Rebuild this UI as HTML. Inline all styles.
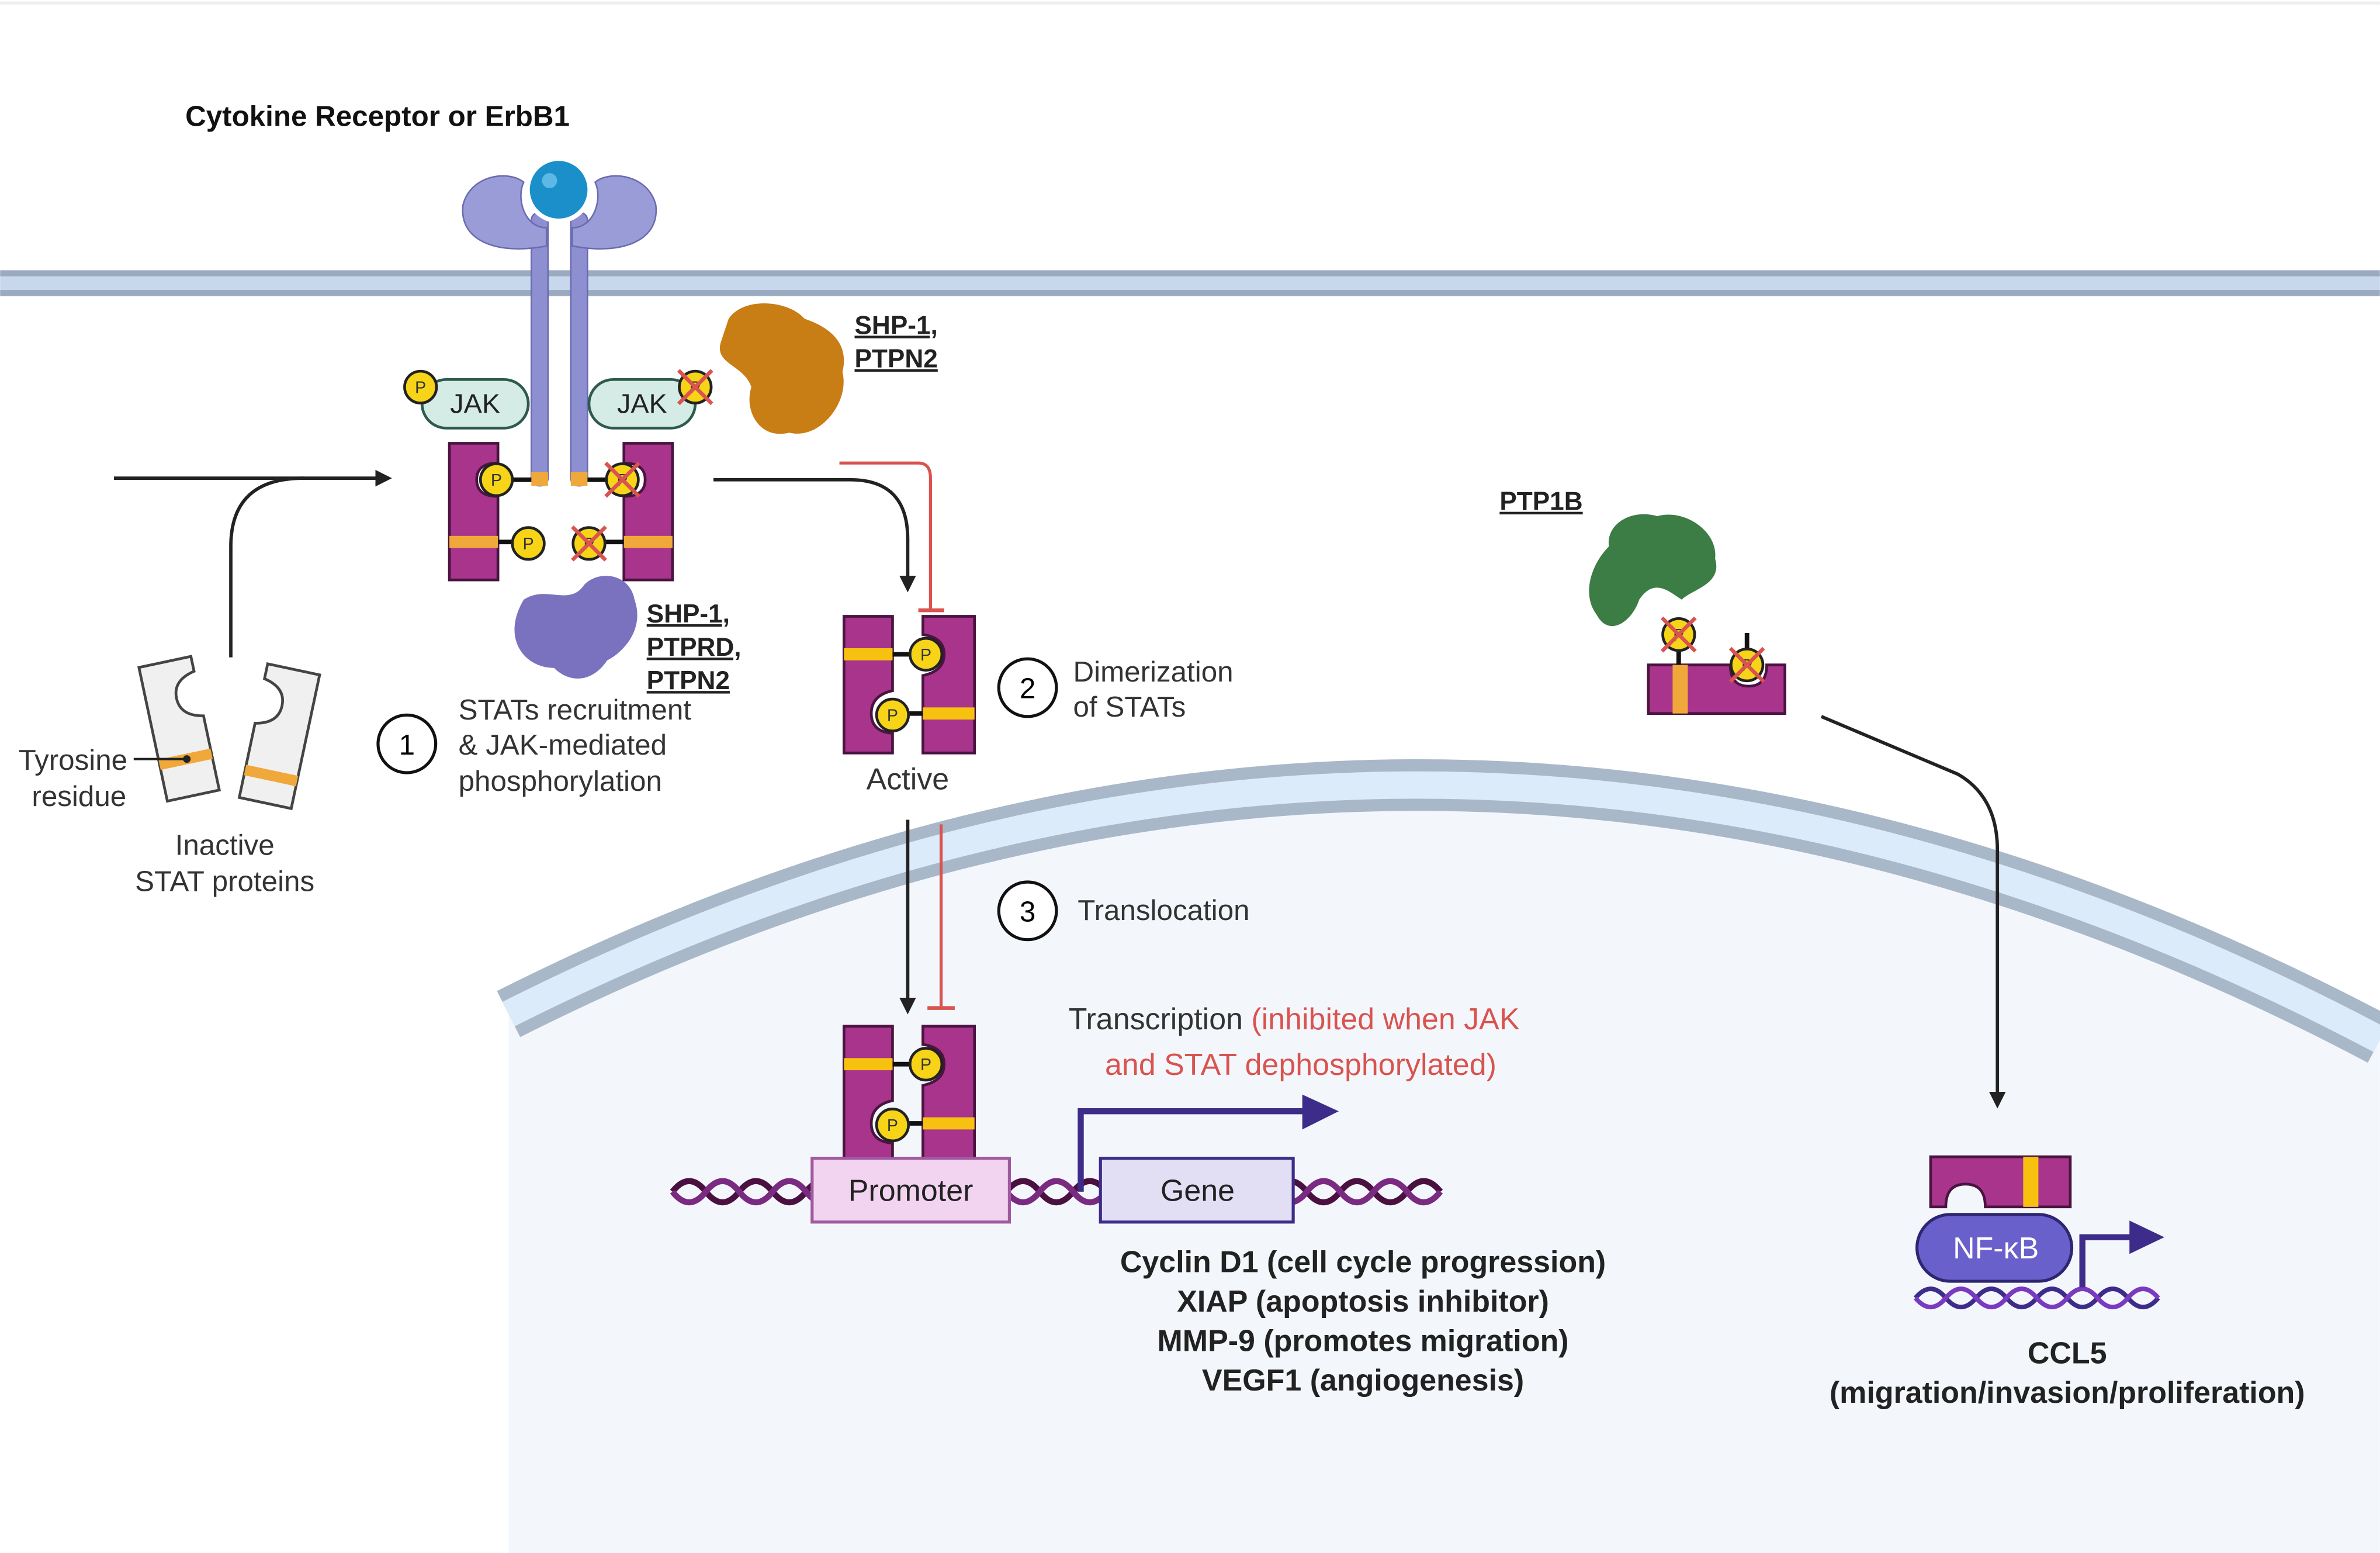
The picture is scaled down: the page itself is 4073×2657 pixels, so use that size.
<!DOCTYPE html>
<html><head><meta charset="utf-8"><style>
html,body{margin:0;padding:0;background:#fff}
svg{display:block}
text{font-family:"Liberation Sans",sans-serif}
</style></head><body>
<svg width="4073" height="2657" viewBox="0 0 1568 1023" xmlns="http://www.w3.org/2000/svg">
<defs>
<marker id="ah" viewBox="0 0 10 10" refX="8" refY="5" markerWidth="5" markerHeight="5" orient="auto"><path d="M0,0L10,5L0,10z" fill="#222"/></marker>
<g id="p"><circle r="10.5" fill="#f7d417" stroke="#222" stroke-width="1.8"/><text y="4" text-anchor="middle" font-size="11" fill="#333">P</text></g>
<g id="x"><path d="M-11,-11L11,11M11,-11L-11,11" stroke="#d9534f" stroke-width="2.5"/></g>
</defs>
<rect width="1568" height="1023" fill="#fff"/>
<line x1="0" y1="2" x2="1568" y2="2" stroke="#eee" stroke-width="2"/>
<rect x="0" y="180" width="1568" height="13" fill="#c9d7ec"/>
<line x1="0" y1="180" x2="1568" y2="180" stroke="#9aaac0" stroke-width="4"/>
<line x1="0" y1="193" x2="1568" y2="193" stroke="#9aaac0" stroke-width="4"/>
<path d="M335,1023 L335,668 Q950,358 1568,685 L1568,1023 Z" fill="#f3f7fc"/>
<path d="M335,668 Q950,358 1568,685" fill="none" stroke="#a9b8c8" stroke-width="34"/>
<path d="M335,668 Q950,358 1568,685" fill="none" stroke="#dcebfa" stroke-width="18"/>
<rect x="350" y="140" width="11" height="180" rx="5" fill="#8d8fd0" stroke="#6a6cb0" stroke-width="1"/>
<rect x="376" y="140" width="11" height="180" rx="5" fill="#8d8fd0" stroke="#6a6cb0" stroke-width="1"/>
<path d="M360,150 C345,150 340,130 345,120 C335,112 310,115 305,135 C302,160 330,168 360,162 Z" fill="#9a9cd8" stroke="#6a6cb0"/>
<path d="M377,150 C392,150 397,130 392,120 C402,112 427,115 432,135 C435,160 407,168 377,162 Z" fill="#9a9cd8" stroke="#6a6cb0"/>
<circle cx="368" cy="125" r="22" fill="#fff"/>
<circle cx="368" cy="125" r="19" fill="#1a8fc9"/>
<circle cx="362" cy="119" r="5" fill="#5cb8e4"/>
<rect x="350" y="311" width="11" height="9" fill="#f0a83a"/><rect x="376" y="311" width="11" height="9" fill="#f0a83a"/>
<rect x="278" y="250" width="70" height="32" rx="16" fill="#d5ece6" stroke="#2f5a4e" stroke-width="1.8"/>
<text x="313" y="272" text-anchor="middle" font-size="18" fill="#222">JAK</text>
<use href="#p" x="277" y="255"/>
<rect x="388" y="250" width="70" height="32" rx="16" fill="#d5ece6" stroke="#2f5a4e" stroke-width="1.8"/>
<text x="423" y="272" text-anchor="middle" font-size="18" fill="#222">JAK</text>
<use href="#p" x="458" y="255"/><use href="#x" x="458" y="255"/>
<path d="M296,292 H328 V305 Q314,305 314,316 Q314,327 328,327 V382 H296 Z" fill="#a8348c" stroke="#4a1440" stroke-width="1.8"/>
<rect x="296" y="353" width="32" height="8" fill="#f0a83a"/>
<path d="M443,292 H411 V305 Q425,305 425,316 Q425,327 411,327 V382 H443 Z" fill="#a8348c" stroke="#4a1440" stroke-width="1.8"/>
<rect x="411" y="353" width="32" height="8" fill="#f0a83a"/>
<line x1="336" y1="316" x2="350" y2="316" stroke="#111" stroke-width="3"/><use href="#p" x="327" y="316"/>
<line x1="387" y1="316" x2="402" y2="316" stroke="#111" stroke-width="3"/><use href="#p" x="410" y="316"/><use href="#x" x="410" y="316"/>
<line x1="328" y1="357" x2="340" y2="357" stroke="#111" stroke-width="3"/><use href="#p" x="348" y="358"/>
<line x1="398" y1="357" x2="411" y2="357" stroke="#111" stroke-width="3"/><use href="#p" x="388" y="358"/><use href="#x" x="388" y="358"/>
<path d="M480,210 C490,195 520,198 530,210 C545,215 560,225 555,245 C560,265 540,290 520,285 C500,290 490,270 495,255 C490,240 470,240 475,225 Z" fill="#c97d15"/>
<path d="M345,395 C360,385 375,400 385,385 C395,375 415,378 418,395 C425,415 410,430 400,435 C390,450 375,450 365,440 C345,440 330,420 345,395 Z" fill="#7b72bf"/>
<text font-size="17" font-weight="bold" fill="#222" text-decoration="underline"><tspan x="563" y="220">SHP-1,</tspan><tspan x="563" y="242">PTPN2</tspan></text>
<text font-size="17" font-weight="bold" fill="#222" text-decoration="underline"><tspan x="426" y="410">SHP-1,</tspan><tspan x="426" y="432">PTPRD,</tspan><tspan x="426" y="454">PTPN2</tspan></text>
<text x="122" y="83" font-size="19" font-weight="bold" fill="#111">Cytokine Receptor or ErbB1</text>
<line x1="75" y1="315" x2="256" y2="315" stroke="#222" stroke-width="2.2" marker-end="url(#ah)"/>
<path d="M152,433 V360 Q152,315 200,315" fill="none" stroke="#222" stroke-width="2.2"/>
<path d="M470,316 H560 Q598,316 598,355 V388" fill="none" stroke="#222" stroke-width="2.2" marker-end="url(#ah)"/>
<path d="M553,305 H605 Q613,305 613,315 V402" fill="none" stroke="#d9534f" stroke-width="2"/>
<line x1="605" y1="402" x2="622" y2="402" stroke="#d9534f" stroke-width="2.5"/>
<g transform="rotate(-12 118 478)"><path d="M100,435 H135 V445 Q120,448 120,460 Q120,472 135,475 V525 H100 Z" fill="#f0f0f0" stroke="#444" stroke-width="1.8"/><rect x="100" y="497" width="35" height="7" fill="#f0a83a"/></g>
<g transform="rotate(12 185 478)"><path d="M203,440 H168 V450 Q183,453 183,465 Q183,477 168,480 V530 H203 Z" fill="#f0f0f0" stroke="#444" stroke-width="1.8"/><rect x="168" y="508" width="35" height="7" fill="#f0a83a"/></g>
<line x1="88" y1="500" x2="123" y2="500" stroke="#222" stroke-width="1.5"/><circle cx="123" cy="500" r="2.5" fill="#222"/>
<text font-size="19" fill="#333" text-anchor="middle"><tspan x="48" y="507">Tyrosine</tspan><tspan x="52" y="531">residue</tspan></text>
<text font-size="19" fill="#333" text-anchor="middle"><tspan x="148" y="563">Inactive</tspan><tspan x="148" y="587">STAT proteins</tspan></text>
<circle cx="268" cy="490" r="19" fill="#fff" stroke="#111" stroke-width="2"/><text x="268" y="497" text-anchor="middle" font-size="19">1</text>
<text font-size="19" fill="#333"><tspan x="302" y="474">STATs recruitment</tspan><tspan x="302" y="497">&amp; JAK-mediated</tspan><tspan x="302" y="521">phosphorylation</tspan></text>
<g id="dimer">
<path d="M556,406 H588 V455 Q574,458 574,470 Q574,482 588,483 V496 H556 Z" fill="#a8348c" stroke="#4a1440" stroke-width="1.8"/>
<rect x="556" y="427" width="32" height="8" fill="#f7c20f"/>
<path d="M642,406 H608 V418 Q622,420 622,431 Q622,442 608,445 V496 H642 Z" fill="#a8348c" stroke="#4a1440" stroke-width="1.8"/>
<rect x="608" y="466" width="34" height="8" fill="#f7c20f"/>
<line x1="588" y1="431" x2="602" y2="431" stroke="#111" stroke-width="3"/><use href="#p" x="610" y="431"/>
<line x1="596" y1="470" x2="608" y2="470" stroke="#111" stroke-width="3"/><use href="#p" x="588" y="471"/>
</g>
<text x="598" y="520" text-anchor="middle" font-size="20" fill="#333">Active</text>
<circle cx="677" cy="453" r="19" fill="#fff" stroke="#111" stroke-width="2"/><text x="677" y="460" text-anchor="middle" font-size="19">2</text>
<text font-size="19" fill="#333"><tspan x="707" y="449">Dimerization</tspan><tspan x="707" y="472">of STATs</tspan></text>
<line x1="598" y1="540" x2="598" y2="666" stroke="#222" stroke-width="2.2" marker-end="url(#ah)"/>
<line x1="620" y1="543" x2="620" y2="664" stroke="#d9534f" stroke-width="2"/>
<line x1="611" y1="664" x2="629" y2="664" stroke="#d9534f" stroke-width="2.5"/>
<circle cx="677" cy="600" r="19" fill="#fff" stroke="#111" stroke-width="2"/><text x="677" y="607" text-anchor="middle" font-size="19">3</text>
<text x="710" y="606" font-size="19" fill="#333">Translocation</text>
<path d="M443,785 q11,-14 22,0 t22,0 t22,0 t22,0 t22,0 t22,0 t22,0 t22,0 t22,0 t22,0 t22,0 t22,0 t22,0 t22,0 t22,0 t22,0 t22,0 t22,0 t22,0 t22,0 t22,0 t22,0 t22,0" fill="none" stroke="#4a1040" stroke-width="4"/>
<path d="M443,785 q11,14 22,0 t22,0 t22,0 t22,0 t22,0 t22,0 t22,0 t22,0 t22,0 t22,0 t22,0 t22,0 t22,0 t22,0 t22,0 t22,0 t22,0 t22,0 t22,0 t22,0 t22,0 t22,0 t22,0" fill="none" stroke="#7a2a80" stroke-width="4"/>
<use href="#dimer" y="270"/>
<rect x="535" y="763" width="130" height="42" fill="#f3d4f0" stroke="#a05aa0" stroke-width="2"/>
<text x="600" y="791" text-anchor="middle" font-size="20" fill="#222">Promoter</text>
<rect x="725" y="763" width="127" height="42" fill="#e2dff5" stroke="#3e2c8a" stroke-width="2"/>
<text x="789" y="791" text-anchor="middle" font-size="20" fill="#222">Gene</text>
<path d="M712,785 V732 H860" fill="none" stroke="#3e2c8a" stroke-width="4"/>
<path d="M858,721 L882,732 L858,744 Z" fill="#3e2c8a"/>
<text font-size="20" fill="#333"><tspan x="704" y="678">Transcription <tspan fill="#d9534f">(inhibited when JAK</tspan></tspan><tspan x="728" y="708" fill="#d9534f">and STAT dephosphorylated)</tspan></text>
<text font-size="20" font-weight="bold" fill="#222" text-anchor="middle"><tspan x="898" y="838">Cyclin D1 (cell cycle progression)</tspan><tspan x="898" y="864">XIAP (apoptosis inhibitor)</tspan><tspan x="898" y="890">MMP-9 (promotes migration)</tspan><tspan x="898" y="916">VEGF1 (angiogenesis)</tspan></text>
<path d="M1060,360 C1058,345 1075,335 1092,340 C1110,335 1132,350 1130,368 C1135,385 1115,388 1108,395 C1100,390 1090,380 1080,395 C1075,410 1060,420 1052,405 C1042,392 1048,372 1060,360 Z" fill="#3c7c45"/>
<text x="988" y="336" font-size="17" font-weight="bold" fill="#222" text-decoration="underline">PTP1B</text>
<path d="M1086,438 H1140 Q1140,452 1152,452 Q1164,452 1164,438 H1176 V470 H1086 Z" fill="#a8348c" stroke="#4a1440" stroke-width="1.8"/>
<rect x="1102" y="438" width="10" height="32" fill="#f0a83a"/>
<line x1="1106" y1="428" x2="1106" y2="438" stroke="#111" stroke-width="3"/><use href="#p" x="1106" y="418"/><use href="#x" x="1106" y="418"/>
<line x1="1151" y1="417" x2="1151" y2="428" stroke="#111" stroke-width="3"/><use href="#p" x="1151" y="438"/><use href="#x" x="1151" y="438"/>
<path d="M1200,472 L1290,510 Q1316,525 1316,560 V728" fill="none" stroke="#222" stroke-width="2.2" marker-end="url(#ah)"/>
<path d="M1262,855 q10,-12 20,0 t20,0 t20,0 t20,0 t20,0 t20,0 t20,0 t20,0" fill="none" stroke="#3e2c8a" stroke-width="3"/>
<path d="M1262,855 q10,12 20,0 t20,0 t20,0 t20,0 t20,0 t20,0 t20,0 t20,0" fill="none" stroke="#7a3ac0" stroke-width="3"/>
<path d="M1272,762 H1364 V795 H1308 Q1308,780 1295,780 Q1282,780 1282,795 H1272 Z" fill="#a8348c" stroke="#4a1440" stroke-width="1.8"/>
<rect x="1333" y="762" width="10" height="33" fill="#f7c20f"/>
<rect x="1263" y="800" width="102" height="44" rx="22" fill="#6a60cc" stroke="#2e2670" stroke-width="2"/>
<text x="1315" y="829" text-anchor="middle" font-size="20" fill="#fff">NF-κB</text>
<path d="M1372,848 V815 H1405" fill="none" stroke="#3e2c8a" stroke-width="4"/>
<path d="M1403,804 L1426,815 L1403,826 Z" fill="#3e2c8a"/>
<text font-size="20" font-weight="bold" fill="#222" text-anchor="middle"><tspan x="1362" y="898">CCL5</tspan><tspan x="1362" y="924">(migration/invasion/proliferation)</tspan></text>
</svg>
</body></html>
